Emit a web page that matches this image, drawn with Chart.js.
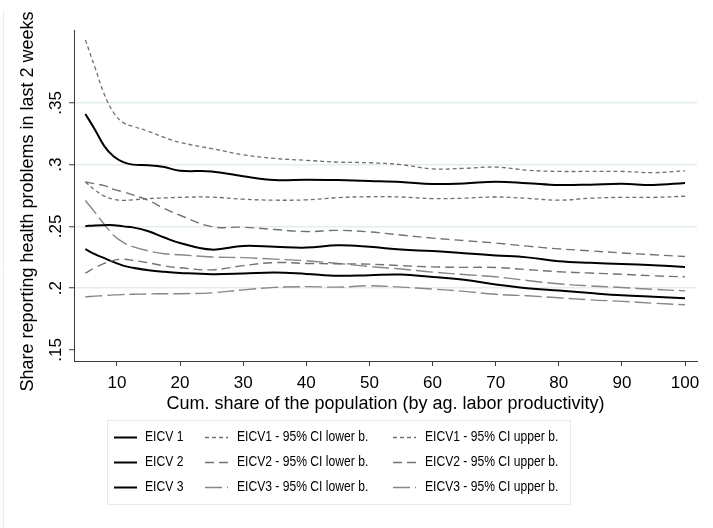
<!DOCTYPE html>
<html>
<head>
<meta charset="utf-8">
<script src="https://cdn.jsdelivr.net/npm/chart.js@4.4.1/dist/chart.umd.min.js"></script>
<style>
  html, body { margin: 0; padding: 0; background: #ffffff; }
  #wrap { width: 713px; height: 528px; position: relative; }
</style>
</head>
<body>
<div id="wrap"><canvas id="c" width="713" height="528"></canvas></div>
<script>
// Cumulative population share (percent) at which the smoothed curves are sampled
const popShare = [5, 6.5, 8, 9.5, 11, 12.5, 15, 17.5, 20, 25, 30, 35, 40, 45, 50, 55, 60, 65, 70, 75, 80, 85, 90, 95, 100];

// EICV 1
const eicv1Mean  = [.341, .3285, .315, .3065, .302, .300, .2995, .298, .295, .2945, .2905, .2875, .2878, .2875, .2868, .286, .2843, .2848, .2862, .285, .2835, .2838, .2845, .2835, .2852];
const eicv1Lower = [.286, .2795, .2745, .2718, .271, .2715, .2725, .273, .2735, .2737, .272, .2712, .2715, .2733, .274, .2738, .2725, .2728, .2738, .2727, .2712, .2728, .2735, .2735, .2744];
const eicv1Upper = [.401, .379, .357, .342, .334, .331, .327, .322, .318, .313, .308, .305, .3035, .302, .3015, .300, .2965, .297, .298, .2955, .2945, .2945, .2945, .2935, .295];

// EICV 2
const eicv2Mean  = [.2502, .2508, .251, .251, .250, .2492, .246, .241, .2365, .2312, .2342, .2335, .2328, .2347, .2335, .2312, .2300, .2282, .2265, .2249, .2218, .2205, .2196, .2185, .2172];
const eicv2Lower = [.2121, .2165, .2200, .2225, .2234, .2225, .2205, .218, .2165, .2148, .2182, .2207, .2200, .2197, .2194, .2182, .2172, .2168, .2167, .2150, .2133, .2122, .2112, .2100, .2091];
const eicv2Upper = [.286, .2845, .283, .280, .278, .2755, .271, .2645, .259, .2498, .2493, .2475, .2458, .2468, .2455, .243, .2405, .2385, .2365, .234, .2318, .2302, .2285, .227, .2256];

// EICV 3
const eicv3Mean  = [.2315, .2275, .2243, .2210, .2182, .2165, .2145, .2132, .2123, .2113, .2118, .2127, .2115, .2100, .2105, .2110, .2090, .2068, .2030, .2000, .1980, .1960, .1942, .1930, .1919];
const eicv3Lower = [.193, .1935, .194, .1945, .1948, .195, .1953, .1955, .1955, .1962, .1986, .2006, .2012, .2008, .2019, .2008, .1992, .1974, .1950, .1938, .1922, .1905, .1893, .1878, .1865];
const eicv3Upper = [.271, .2615, .2516, .2427, .2371, .2336, .2301, .2278, .227, .2252, .2247, .2235, .2222, .2200, .2175, .2155, .2130, .2110, .2092, .2062, .2035, .2018, .2005, .1990, .1978];

// Axis ticks and titles
const xTicks = [10, 20, 30, 40, 50, 60, 70, 80, 90, 100];
const yTicks = [.15, .2, .25, .3, .35];
const xTitle = 'Cum. share of the population (by ag. labor productivity)';
const yTitle = 'Share reporting health problems in last 2 weeks';

const FONT = "'Liberation Sans', Arial, Helvetica, sans-serif";
const AXIS = '#3a3a3a';
const GRID = '#e4edee';

const pts = vals => vals.map((v, i) => ({ x: popShare[i], y: v }));

const solid = { borderColor: '#000000', borderWidth: 2, borderDash: [] };
const shortDash = { borderColor: '#6f6f6f', borderWidth: 1.3, borderDash: [4, 3] };
const medDash = { borderColor: '#727272', borderWidth: 1.4, borderDash: [9, 5] };
const longDash = { borderColor: '#868686', borderWidth: 1.4, borderDash: [17, 5] };

const series = [
  ['EICV 1', eicv1Mean, solid],
  ['EICV1 - 95% CI lower b.', eicv1Lower, shortDash],
  ['EICV1 - 95% CI upper b.', eicv1Upper, shortDash],
  ['EICV 2', eicv2Mean, solid],
  ['EICV2 - 95% CI lower b.', eicv2Lower, medDash],
  ['EICV2 - 95% CI upper b.', eicv2Upper, medDash],
  ['EICV 3', eicv3Mean, solid],
  ['EICV3 - 95% CI lower b.', eicv3Lower, longDash],
  ['EICV3 - 95% CI upper b.', eicv3Upper, longDash]
];

const datasets = series.map(([label, vals, st]) => Object.assign({
  label,
  data: pts(vals),
  pointRadius: 0,
  fill: false,
  tension: 0.4
}, st));

// Vertical axis title (placed a little below the plot's centre) and the
// three-column legend box under the plot, filled row by row
const annotations = {
  id: 'annotations',
  afterDraw(chart) {
    const ctx = chart.ctx;
    ctx.save();
    // faint outer frame edge
    ctx.strokeStyle = '#ececec';
    ctx.lineWidth = 1;
    ctx.beginPath();
    ctx.moveTo(3.5, 11);
    ctx.lineTo(3.5, 528);
    ctx.stroke();

    // y axis title
    ctx.save();
    ctx.translate(28, 201.5);
    ctx.rotate(-Math.PI / 2);
    ctx.font = '18px ' + FONT;
    ctx.fillStyle = '#000';
    ctx.textAlign = 'center';
    ctx.textBaseline = 'middle';
    ctx.fillText(yTitle, 0, 0);
    ctx.restore();

    ctx.strokeStyle = '#e3ebeb';
    ctx.strokeRect(107.5, 420.5, 463, 84);
    const colSample = [114, 205, 393];
    const colText = [145, 237, 425];
    const rowY = [437, 462, 487];
    ctx.font = '14px ' + FONT;
    ctx.textBaseline = 'middle';
    ctx.textAlign = 'left';
    chart.data.datasets.forEach((ds, i) => {
      const r = Math.floor(i / 3), c = i % 3;
      const y = rowY[r];
      ctx.strokeStyle = ds.borderColor;
      ctx.lineWidth = ds.borderWidth;
      ctx.setLineDash(ds.borderDash || []);
      ctx.beginPath();
      ctx.moveTo(colSample[c], y + 0.5);
      ctx.lineTo(colSample[c] + 23, y + 0.5);
      ctx.stroke();
      ctx.setLineDash([]);
      ctx.fillStyle = '#000000';
      // slightly condensed legend lettering
      ctx.save();
      ctx.translate(colText[c], y);
      ctx.scale(0.865, 1);
      ctx.fillText(ds.label, 0, 0);
      ctx.restore();
    });
    ctx.restore();
  }
};

new Chart(document.getElementById('c'), {
  type: 'line',
  data: { datasets },
  options: {
    responsive: false,
    animation: false,
    devicePixelRatio: 1,
    layout: { padding: { left: 0, right: 16, top: 30, bottom: 112 } },
    plugins: { legend: { display: false }, tooltip: { enabled: false } },
    scales: {
      x: {
        type: 'linear',
        min: 3.2,
        max: 101.9,
        afterBuildTicks: s => { s.ticks = xTicks.map(v => ({ value: v })); },
        afterFit: s => { s.height = 55; },
        grid: { drawOnChartArea: false, drawTicks: true, tickLength: 5, tickColor: AXIS, tickWidth: 1 },
        border: { display: true, color: AXIS, width: 1 },
        ticks: { color: '#000', font: { family: FONT, size: 17 }, padding: 7, maxRotation: 0, autoSkip: false,
                 callback: v => String(v) },
        title: { display: true, text: xTitle,
                 color: '#000', font: { family: FONT, size: 18 }, padding: { top: 0, bottom: 1 } }
      },
      y: {
        type: 'linear',
        min: 0.141,
        max: 0.409,
        afterBuildTicks: s => { s.ticks = yTicks.map(v => ({ value: v })); },
        afterFit: s => { s.width = 74; },
        grid: {
          color: c => (c.tick && Math.abs(c.tick.value - 0.15) < 1e-9) ? 'rgba(0,0,0,0)' : GRID,
          lineWidth: 1.5,
          drawTicks: true, tickLength: 5, tickColor: AXIS, tickWidth: 1
        },
        border: { display: true, color: AXIS, width: 1 },
        ticks: {
          color: '#000', font: { family: FONT, size: 17 }, padding: 1,
          minRotation: 90, maxRotation: 90, crossAlign: 'center', autoSkip: false,
          callback: v => { let s = (+v).toFixed(2).replace(/^0/, ''); if (s.endsWith('0')) s = s.slice(0, -1); return s; }
        },
        title: { display: false }
      }
    }
  },
  plugins: [annotations]
});
</script>
</body>
</html>
